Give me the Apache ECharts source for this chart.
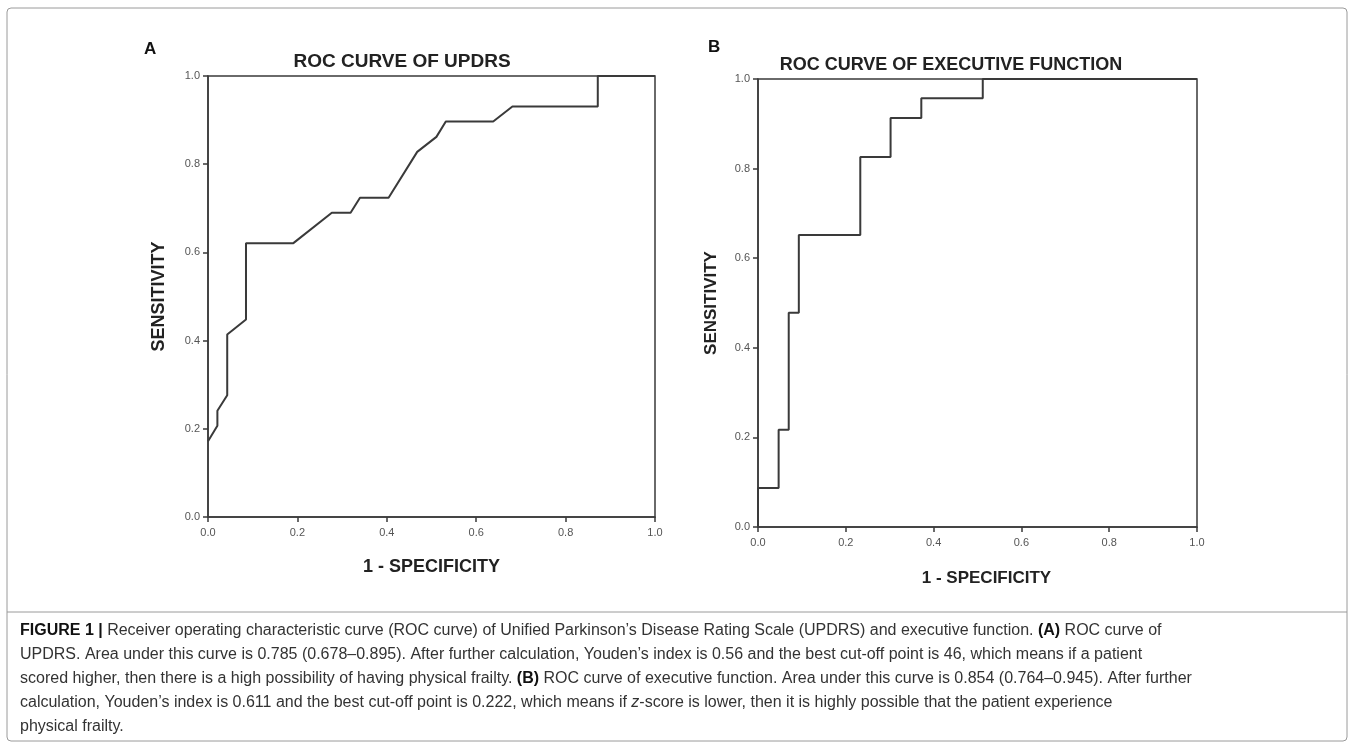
<!DOCTYPE html>
<html>
<head>
<meta charset="utf-8">
<script src="https://cdn.jsdelivr.net/npm/echarts@6/dist/echarts.min.js"></script>
<style>
html,body{margin:0;padding:0;background:#fff;}
#chart{width:1354px;height:748px;}
</style>
</head>
<body>
<div id="chart"></div>
<script>
// ---- data ----
const updrsX = [0, 0.021, 0.021, 0.043, 0.043, 0.085, 0.085, 0.191, 0.277, 0.319, 0.340, 0.404, 0.468, 0.511, 0.532, 0.638, 0.681, 0.872, 0.872, 1.0];
const updrsY = [0.172, 0.207, 0.241, 0.276, 0.414, 0.448, 0.621, 0.621, 0.690, 0.690, 0.724, 0.724, 0.828, 0.862, 0.897, 0.897, 0.931, 0.931, 1.0, 1.0];
const execX = [0, 0, 0.047, 0.047, 0.070, 0.070, 0.093, 0.093, 0.233, 0.233, 0.302, 0.302, 0.372, 0.372, 0.512, 0.512, 1.0];
const execY = [0, 0.087, 0.087, 0.217, 0.217, 0.478, 0.478, 0.652, 0.652, 0.826, 0.826, 0.913, 0.913, 0.957, 0.957, 1.0, 1.0];
const tickValues = [0, 0.2, 0.4, 0.6, 0.8, 1.0];
const titles = ['ROC CURVE OF UPDRS', 'ROC CURVE OF EXECUTIVE FUNCTION'];
const panelLetters = ['A', 'B'];
const xName = '1 - SPECIFICITY';
const yName = 'SENSITIVITY';
const captionLines = [
  '{b|FIGURE 1} {b||} Receiver operating characteristic curve (ROC curve) of Unified Parkinson\u2019s Disease Rating Scale (UPDRS) and executive function. {b|(A)} ROC curve of',
  'UPDRS. Area under this curve is 0.785 (0.678\u20130.895). After further calculation, Youden\u2019s index is 0.56 and the best cut-off point is 46, which means if a patient',
  'scored higher, then there is a high possibility of having physical frailty. {b|(B)} ROC curve of executive function. Area under this curve is 0.854 (0.764\u20130.945). After further',
  'calculation, Youden\u2019s index is 0.611 and the best cut-off point is 0.222, which means if {i|z}-score is lower, then it is highly possible that the patient experience',
  'physical frailty.'
];

const pair = (xs, ys) => xs.map((x, i) => [x, ys[i]]);
const lineColor = '#3a3a3a';
const font = 'Arial, "Liberation Sans", sans-serif';
const capFont = '"Liberation Sans Narrow", "Arial Narrow", "Liberation Sans", Arial, sans-serif';

function xAxis(idx, nameSize, nameGap, namePad) {
  return {
    type: 'value', gridIndex: idx, min: 0, max: 1, interval: 0.2,
    name: xName, nameLocation: 'middle', nameGap: nameGap,
    nameTextStyle: {fontFamily: font, fontWeight: 'bold', fontSize: nameSize, color: '#222', padding: namePad},
    axisLine: {show: true, lineStyle: {color: lineColor, width: 1.5}},
    axisTick: {show: true, length: 5, lineStyle: {color: lineColor, width: 1.5}},
    axisLabel: {color: '#555', fontFamily: font, fontSize: 11, margin: 10, formatter: v => v.toFixed(1)},
    splitLine: {show: false}
  };
}
function yAxis(idx, nameSize, nameGap) {
  return {
    type: 'value', gridIndex: idx, min: 0, max: 1, interval: 0.2,
    name: yName, nameLocation: 'middle', nameGap: nameGap,
    nameTextStyle: {fontFamily: font, fontWeight: 'bold', fontSize: nameSize, color: '#222'},
    axisLine: {show: true, lineStyle: {color: lineColor, width: 1.5}},
    axisTick: {show: true, length: 5, lineStyle: {color: lineColor, width: 1.5}},
    axisLabel: {color: '#555', fontFamily: font, fontSize: 11, margin: 8, formatter: v => v.toFixed(1)},
    splitLine: {show: false}
  };
}

const chart = echarts.init(document.getElementById('chart'), null, {renderer: 'canvas'});
chart.setOption({
  backgroundColor: '#fff',
  animation: false,
  title: [
    {text: titles[0], left: 397, top: 47, textAlign: 'center',
     textStyle: {fontFamily: font, fontWeight: 'bold', fontSize: 19, color: '#222'}},
    {text: titles[1], left: 946, top: 51, textAlign: 'center',
     textStyle: {fontFamily: font, fontWeight: 'bold', fontSize: 18, color: '#222'}}
  ],
  grid: [
    {left: 208, top: 76, width: 447, height: 441, show: true, borderColor: lineColor, borderWidth: 1.5, backgroundColor: 'transparent'},
    {left: 758, top: 79, width: 439, height: 448, show: true, borderColor: lineColor, borderWidth: 1.5, backgroundColor: 'transparent'}
  ],
  xAxis: [xAxis(0, 18, 41, 0), xAxis(1, 17, 43, [0, 0, 0, 18])],
  yAxis: [yAxis(0, 18, 40), yAxis(1, 17, 38)],
  series: [
    {type: 'line', xAxisIndex: 0, yAxisIndex: 0, data: pair(updrsX, updrsY), showSymbol: false,
     lineStyle: {color: lineColor, width: 2}},
    {type: 'line', xAxisIndex: 1, yAxisIndex: 1, data: pair(execX, execY), showSymbol: false,
     lineStyle: {color: lineColor, width: 2}}
  ],
  graphic: [
    {type: 'rect', shape: {x: 7, y: 8, width: 1340, height: 733, r: 4}, style: {fill: 'none', stroke: '#9a9a9a', lineWidth: 1}, silent: true},
    {type: 'line', shape: {x1: 7, y1: 612, x2: 1347, y2: 612}, style: {stroke: '#9a9a9a', lineWidth: 1}, silent: true},
    {type: 'text', left: 144, top: 41, style: {text: panelLetters[0], font: 'bold 17px ' + font, fill: '#111'}},
    {type: 'text', left: 708, top: 39, style: {text: panelLetters[1], font: 'bold 17px ' + font, fill: '#111'}},
    {type: 'text', left: 20, top: 619,
     style: {
       text: captionLines.join('\n'),
       fontFamily: capFont, fontSize: 16, lineHeight: 24, fill: '#333',
       rich: {
         b: {fontFamily: capFont, fontWeight: 'bold', fontSize: 16, lineHeight: 24, fill: '#111'},
         i: {fontFamily: capFont, fontStyle: 'italic', fontSize: 16, lineHeight: 24, fill: '#333'}
       }
     }}
  ]
});
</script>
</body>
</html>
